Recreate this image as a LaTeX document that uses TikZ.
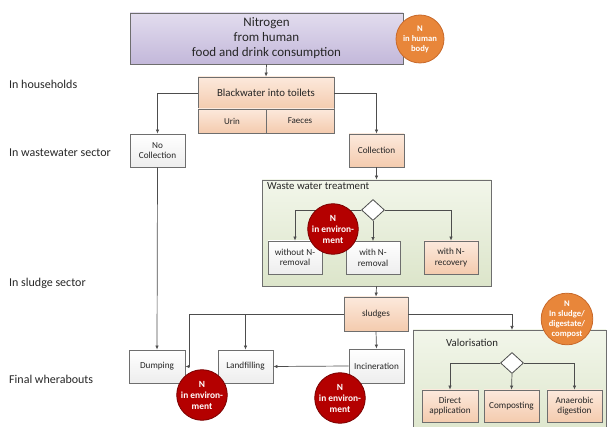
\documentclass[tikz,border=0pt]{standalone}
\usepackage{fontspec}
\setmainfont{Carlito}
\usetikzlibrary{arrows.meta,shapes.geometric,shadows}
\definecolor{lav1}{HTML}{E2DCEE}
\definecolor{lav2}{HTML}{C3B8DA}
\definecolor{pch1}{HTML}{FCE9DC}
\definecolor{pch2}{HTML}{F4CBAE}
\definecolor{grn1}{HTML}{F2F6EA}
\definecolor{grn2}{HTML}{DCE5CA}
\definecolor{edge}{HTML}{6E6E6E}
\definecolor{lin}{HTML}{4D4D4D}
\definecolor{orng}{HTML}{E8863A}
\definecolor{orngd}{HTML}{C8692A}
\definecolor{redc}{HTML}{B40000}
\definecolor{redd}{HTML}{7A0000}
\definecolor{txt}{HTML}{262626}
\tikzset{
  x=1pt, y=-1pt,
  box/.style={draw=edge, line width=0.8pt, inner sep=1pt, align=center,
    font=\fontsize{9.2}{10.5}\selectfont, text=txt,
    drop shadow={shadow xshift=1pt, shadow yshift=-1pt, opacity=0.25, fill=black}},
  wbox/.style={box, top color=white, bottom color=gray!14},
  pbox/.style={box, top color=pch1, bottom color=pch2},
  lbox/.style={box, top color=lav1, bottom color=lav2, font=\fontsize{13}{15}\selectfont},
  cont/.style={draw=edge, line width=0.8pt, top color=grn1, bottom color=grn2, inner sep=0pt},
  dia/.style={diamond, draw=lin, line width=0.8pt, fill=white, inner sep=0pt, minimum width=23pt, minimum height=21pt},
  circ/.style={circle, inner sep=0pt, align=center, text=white,
    font=\bfseries\fontsize{8.6}{10}\selectfont, line width=0.8pt},
  ocirc/.style={circ, fill=orng, draw=orngd, minimum size=48pt},
  rcirc/.style={circ, fill=redc, draw=redd, minimum size=50pt, font=\bfseries\fontsize{9.4}{11}\selectfont},
  lab/.style={anchor=west, inner sep=0pt, font=\fontsize{12}{14}\selectfont, text=txt},
  arr/.style={draw=lin, line width=0.7pt, -{Latex[length=4pt,width=3.5pt]}},
}
\begin{document}
\begin{tikzpicture}
\useasboundingbox (0,0) rectangle (608,427);
\clip (0,0) rectangle (608,427);

% left labels
\node[lab] (l1) at (9,84) {In households};
\node[lab] (l2) at (9,153) {In wastewater sector};
\node[lab] (l3) at (9,283) {In sludge sector};
\node[lab] (l4) at (9,379) {Final wherabouts};

% containers
\node[cont, minimum width=229pt, minimum height=106pt] (wwt) at (376.5,233) {};
\node[anchor=north west, inner sep=0pt, font=\fontsize{10.8}{12}\selectfont, text=txt] (wwtl) at (267,182) {Waste water treatment};
\node[cont, minimum width=193pt, minimum height=110pt] (val) at (509.5,385) {};
\node[anchor=west, inner sep=0pt, font=\fontsize{10.8}{12}\selectfont, text=txt] (vall) at (446,343) {Valorisation};

% boxes
\node[lbox, minimum width=273pt, minimum height=51pt] (top) at (266.5,38.5) {Nitrogen\\from human\\food and drink consumption};
\node[pbox, minimum width=136pt, minimum height=32pt, font=\fontsize{10.8}{12}\selectfont] (bw) at (266,93) {Blackwater into toilets};
\node[pbox, minimum width=68pt, minimum height=24pt, font=\fontsize{9}{10}\selectfont] (urin) at (232,121) {Urin};
\node[pbox, minimum width=68pt, minimum height=24pt, font=\fontsize{9}{10}\selectfont] (faeces) at (300,121) {Faeces};
\node[wbox, minimum width=55pt, minimum height=33pt] (nocoll) at (157.5,150.5) {No\\Collection};
\node[pbox, minimum width=55pt, minimum height=33pt] (coll) at (376.5,150.5) {Collection};

\node[dia] (d1) at (373,210) {};
\node[wbox, minimum width=54pt, minimum height=33pt] (wo) at (295,257.5) {without N-\\removal};
\node[wbox, minimum width=54pt, minimum height=33pt] (wn) at (373,258) {with N-\\removal};
\node[pbox, minimum width=54pt, minimum height=33pt] (wr) at (451,257.5) {with N-\\recovery};

\node[pbox, minimum width=64pt, minimum height=34pt] (sl) at (376,314) {sludges};
\node[wbox, minimum width=56pt, minimum height=33pt] (dump) at (157,366.5) {Dumping};
\node[wbox, minimum width=55pt, minimum height=33pt] (land) at (245.5,366.5) {Landfilling};
\node[wbox, minimum width=55pt, minimum height=34pt] (inc) at (376.5,366) {Incineration};

\node[dia] (d2) at (512,363) {};
\node[pbox, minimum width=56pt, minimum height=32pt] (da) at (450,406) {Direct\\application};
\node[pbox, minimum width=55pt, minimum height=32pt] (comp) at (511.5,406) {Composting};
\node[pbox, minimum width=55pt, minimum height=32pt] (ad) at (574.5,406) {Anaerobic\\digestion};

% connectors
\coordinate (c1) at (189,366.5);
\coordinate (vtop) at (512,330);
\draw[arr] (top.south) -- (bw.north);
\draw[arr] (bw.west) -| (nocoll.north);
\draw[arr] (bw.east) -| (coll.north);
\draw[arr] (coll.south) -- (wwt.north);
\draw[arr] (d1.west) -| (wo.north);
\draw[arr] (d1.south) -- (wn.north);
\draw[arr] (d1.east) -| (wr.north);
\draw[arr] (wwt.south) -- (sl.north);
\draw[arr] (sl.west) -| (c1) -- (dump.east);
\draw[arr] (sl.west) -| (land.north);
\draw[arr] (nocoll.south) -- (dump.north);
\draw[arr] (sl.south) -- (inc.north);
\draw[arr] (inc.west) -- (land.east);
\draw[arr] (sl.east) -| (vtop);
\draw[arr] (d2.west) -| (da.north);
\draw[arr] (d2.south) -- (comp.north);
\draw[arr] (d2.east) -| (ad.north);

% circles
\node[ocirc] (oc1) at (420,39) {N\\in human\\body};
\node[rcirc] (rc1) at (333,229) {N\\in environ-\\ment};
\node[rcirc] (rc2) at (202,395) {N\\in environ-\\ment};
\node[rcirc] (rc3) at (340,398) {N\\in environ-\\ment};
\node[ocirc] (oc2) at (567,319) {N\\In sludge/\\digestate/\\compost};
\end{tikzpicture}
\end{document}
